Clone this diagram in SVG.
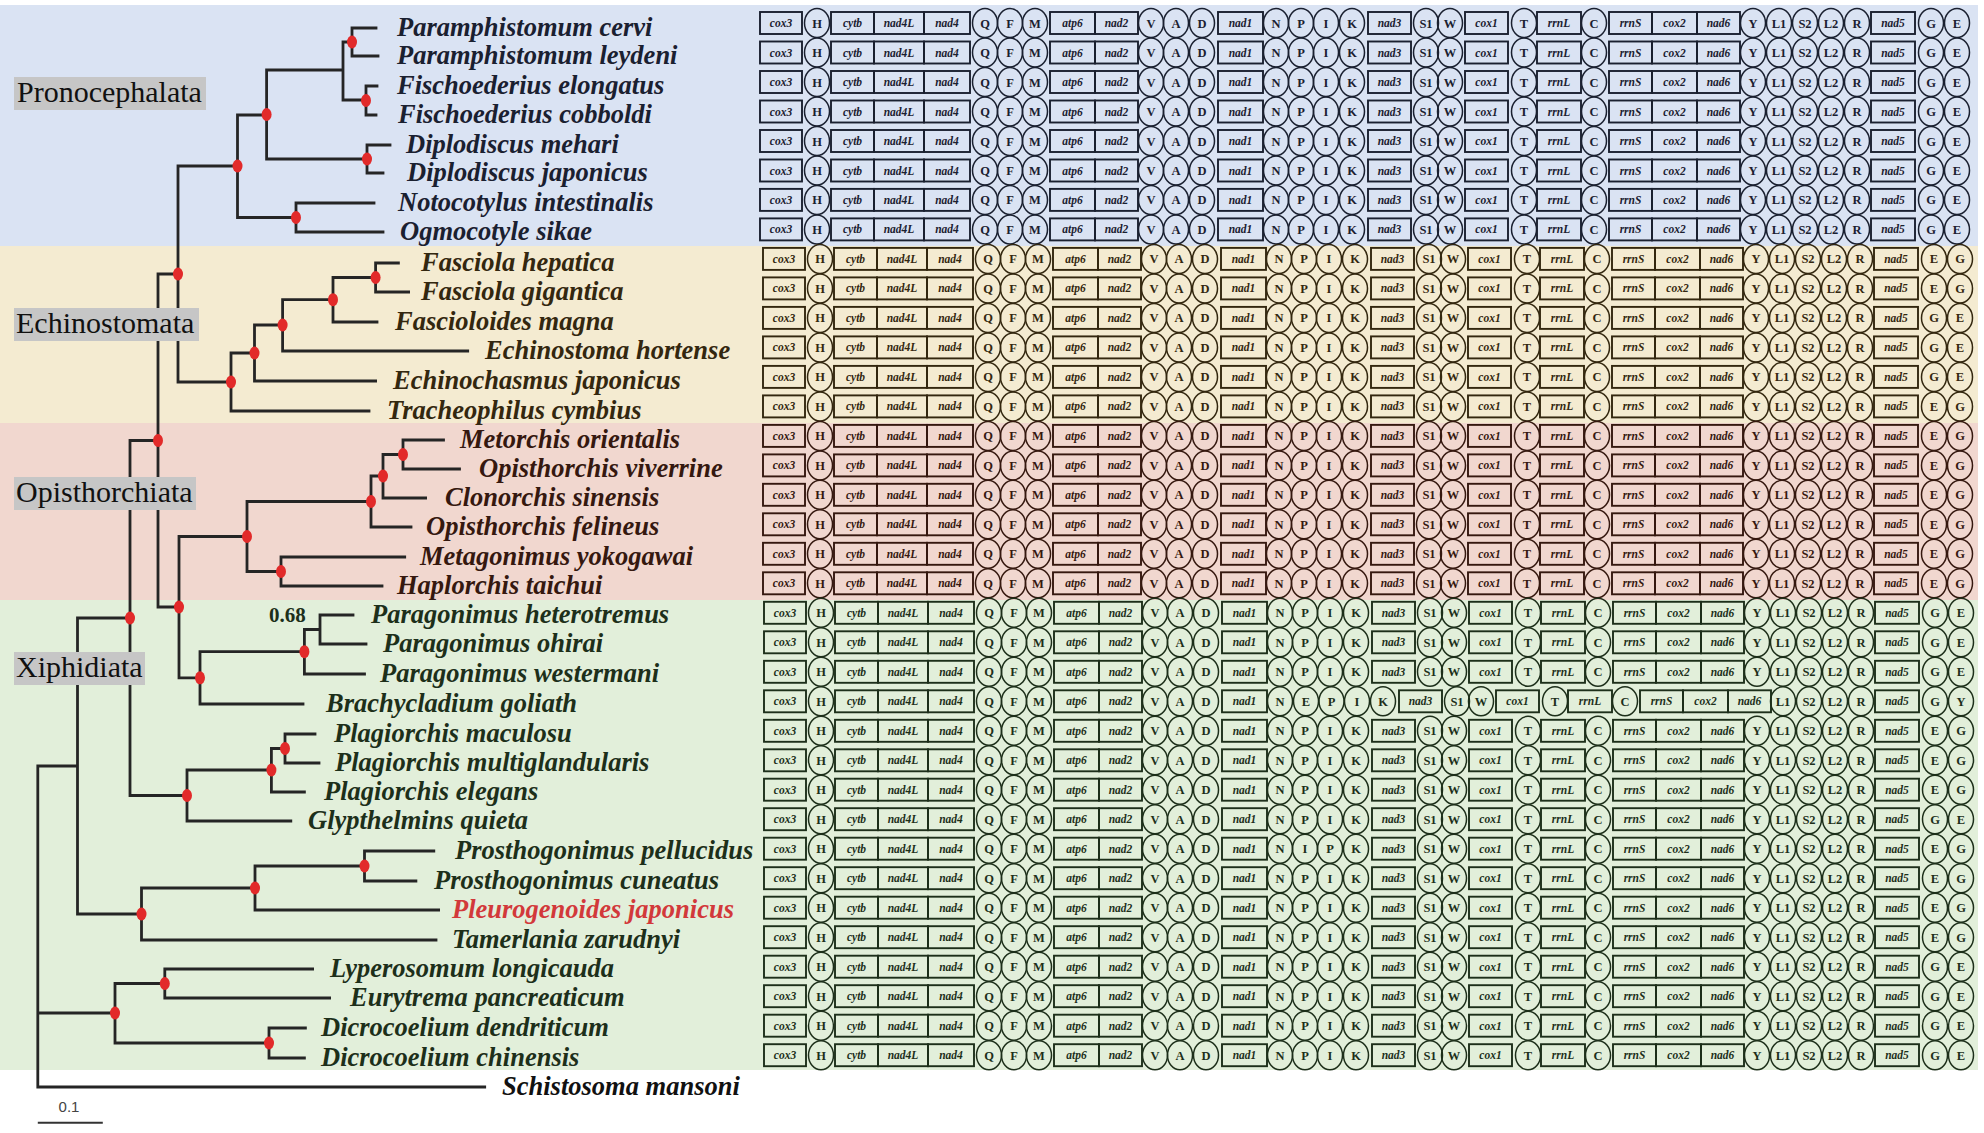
<svg xmlns="http://www.w3.org/2000/svg" xmlns:xlink="http://www.w3.org/1999/xlink" width="1984" height="1133" viewBox="0 0 1984 1133">
<style>
.bx{fill:none;stroke:currentColor;stroke-width:1.9}
.cc{fill:none;stroke:currentColor;stroke-width:1.5}
.bt{font-family:"Liberation Serif",serif;font-style:italic;font-weight:bold;font-size:11.5px;fill:currentColor;text-anchor:middle}
.ct{font-family:"Liberation Serif",serif;font-weight:bold;font-size:12.5px;fill:currentColor;text-anchor:middle}
.lab{font-family:"Liberation Serif",serif;font-style:italic;font-weight:bold;font-size:26.5px;fill:currentColor}
.B{color:#1a2030}.Y{color:#33270f}.P{color:#35180f}.G{color:#1d2f1a}.W{color:#111}
.tree{fill:none;stroke:#252525;stroke-width:2.8;stroke-linecap:square}
.mk{fill:#e22a2a}
.cl{fill:#c6c6c6}
.clt{font-family:"Liberation Serif",serif;font-size:30px;fill:#111}
</style>
<defs>
<g id="gl">
<rect class="bx" x="760" y="-11" width="42" height="22"/><text class="bt" x="781" y="4">cox3</text>
<ellipse class="cc" cx="817" rx="12.5" ry="14.5"/><text class="ct" x="817" y="4.5">H</text>
<rect class="bx" x="831" y="-11" width="43" height="22"/><text class="bt" x="852.5" y="4">cytb</text>
<rect class="bx" x="874" y="-11" width="50" height="22"/><text class="bt" x="899" y="4">nad4L</text>
<rect class="bx" x="924" y="-11" width="46" height="22"/><text class="bt" x="947" y="4">nad4</text>
<ellipse class="cc" cx="985" rx="12.5" ry="14.5"/><text class="ct" x="985" y="4.5">Q</text>
<ellipse class="cc" cx="1010" rx="12.5" ry="14.5"/><text class="ct" x="1010" y="4.5">F</text>
<ellipse class="cc" cx="1035" rx="12.5" ry="14.5"/><text class="ct" x="1035" y="4.5">M</text>
<rect class="bx" x="1050" y="-11" width="45" height="22"/><text class="bt" x="1072.5" y="4">atp6</text>
<rect class="bx" x="1095" y="-11" width="43" height="22"/><text class="bt" x="1116.5" y="4">nad2</text>
<ellipse class="cc" cx="1151" rx="12.5" ry="14.5"/><text class="ct" x="1151" y="4.5">V</text>
<ellipse class="cc" cx="1176" rx="12.5" ry="14.5"/><text class="ct" x="1176" y="4.5">A</text>
<ellipse class="cc" cx="1202" rx="12.5" ry="14.5"/><text class="ct" x="1202" y="4.5">D</text>
<rect class="bx" x="1218" y="-11" width="45" height="22"/><text class="bt" x="1240.5" y="4">nad1</text>
<ellipse class="cc" cx="1276" rx="12.5" ry="14.5"/><text class="ct" x="1276" y="4.5">N</text>
</g>
<g id="pik">
<ellipse class="cc" cx="1301" rx="12.5" ry="14.5"/><text class="ct" x="1301" y="4.5">P</text>
<ellipse class="cc" cx="1326" rx="12.5" ry="14.5"/><text class="ct" x="1326" y="4.5">I</text>
<ellipse class="cc" cx="1352" rx="12.5" ry="14.5"/><text class="ct" x="1352" y="4.5">K</text>
</g>
<g id="ipk">
<ellipse class="cc" cx="1301" rx="12.5" ry="14.5"/><text class="ct" x="1301" y="4.5">I</text>
<ellipse class="cc" cx="1326" rx="12.5" ry="14.5"/><text class="ct" x="1326" y="4.5">P</text>
<ellipse class="cc" cx="1352" rx="12.5" ry="14.5"/><text class="ct" x="1352" y="4.5">K</text>
</g>
<g id="gm">
<rect class="bx" x="1368" y="-11" width="43" height="22"/><text class="bt" x="1389.5" y="4">nad3</text>
<ellipse class="cc" cx="1426" rx="12.5" ry="14.5"/><text class="ct" x="1426" y="4.5">S1</text>
<ellipse class="cc" cx="1450" rx="12.5" ry="14.5"/><text class="ct" x="1450" y="4.5">W</text>
<rect class="bx" x="1465" y="-11" width="43" height="22"/><text class="bt" x="1486.5" y="4">cox1</text>
<ellipse class="cc" cx="1524" rx="12.5" ry="14.5"/><text class="ct" x="1524" y="4.5">T</text>
<rect class="bx" x="1537" y="-11" width="44" height="22"/><text class="bt" x="1559" y="4">rrnL</text>
<ellipse class="cc" cx="1594" rx="12.5" ry="14.5"/><text class="ct" x="1594" y="4.5">C</text>
<rect class="bx" x="1609" y="-11" width="43" height="22"/><text class="bt" x="1630.5" y="4">rrnS</text>
<rect class="bx" x="1652" y="-11" width="45" height="22"/><text class="bt" x="1674.5" y="4">cox2</text>
<rect class="bx" x="1697" y="-11" width="43" height="22"/><text class="bt" x="1718.5" y="4">nad6</text>
</g>
<g id="gy"><ellipse class="cc" cx="1753" rx="12.5" ry="14.5"/><text class="ct" x="1753" y="4.5">Y</text></g>
<g id="gt">
<ellipse class="cc" cx="1779" rx="12.5" ry="14.5"/><text class="ct" x="1779" y="4.5">L1</text>
<ellipse class="cc" cx="1805" rx="12.5" ry="14.5"/><text class="ct" x="1805" y="4.5">S2</text>
<ellipse class="cc" cx="1831" rx="12.5" ry="14.5"/><text class="ct" x="1831" y="4.5">L2</text>
<ellipse class="cc" cx="1857" rx="12.5" ry="14.5"/><text class="ct" x="1857" y="4.5">R</text>
<rect class="bx" x="1871" y="-11" width="44" height="22"/><text class="bt" x="1893" y="4">nad5</text>
</g>
<g id="ge">
<ellipse class="cc" cx="1931" rx="12.5" ry="14.5"/><text class="ct" x="1931" y="4.5">G</text>
<ellipse class="cc" cx="1957" rx="12.5" ry="14.5"/><text class="ct" x="1957" y="4.5">E</text>
</g>
<g id="eg">
<ellipse class="cc" cx="1931" rx="12.5" ry="14.5"/><text class="ct" x="1931" y="4.5">E</text>
<ellipse class="cc" cx="1957" rx="12.5" ry="14.5"/><text class="ct" x="1957" y="4.5">G</text>
</g>
<g id="core"><use href="#gl"/><use href="#gm"/><use href="#gy"/><use href="#gt"/></g>
</defs>

<g id="bands">
<rect x="0" y="5" width="1978" height="241" fill="#dae3f3"/>
<rect x="0" y="246" width="1978" height="177" fill="#f4ebd1"/>
<rect x="0" y="423" width="1978" height="177" fill="#f1d7cf"/>
<rect x="0" y="600" width="1978" height="470" fill="#e2efda"/>
</g>

<g id="taxa">
<g id="taxon-paramphistomum-cervi" class="B"><text class="lab" x="397" y="36">Paramphistomum cervi</text><g transform="translate(0,23)"><use href="#core"/><use href="#pik"/><use href="#ge"/></g></g>
<g id="taxon-paramphistomum-leydeni" class="B"><text class="lab" x="397" y="64">Paramphistomum leydeni</text><g transform="translate(0,52.5)"><use href="#core"/><use href="#pik"/><use href="#ge"/></g></g>
<g id="taxon-fischoederius-elongatus" class="B"><text class="lab" x="397" y="94">Fischoederius elongatus</text><g transform="translate(0,82)"><use href="#core"/><use href="#pik"/><use href="#ge"/></g></g>
<g id="taxon-fischoederius-cobboldi" class="B"><text class="lab" x="398" y="123">Fischoederius cobboldi</text><g transform="translate(0,111.5)"><use href="#core"/><use href="#pik"/><use href="#ge"/></g></g>
<g id="taxon-diplodiscus-mehari" class="B"><text class="lab" x="406" y="153">Diplodiscus mehari</text><g transform="translate(0,141)"><use href="#core"/><use href="#pik"/><use href="#ge"/></g></g>
<g id="taxon-diplodiscus-japonicus" class="B"><text class="lab" x="407" y="181">Diplodiscus japonicus</text><g transform="translate(0,170.5)"><use href="#core"/><use href="#pik"/><use href="#ge"/></g></g>
<g id="taxon-notocotylus-intestinalis" class="B"><text class="lab" x="398" y="211">Notocotylus intestinalis</text><g transform="translate(0,199.9)"><use href="#core"/><use href="#pik"/><use href="#ge"/></g></g>
<g id="taxon-ogmocotyle-sikae" class="B"><text class="lab" x="400" y="240">Ogmocotyle sikae</text><g transform="translate(0,229.4)"><use href="#core"/><use href="#pik"/><use href="#ge"/></g></g>

<g id="taxon-fasciola-hepatica" class="Y"><text class="lab" x="421" y="271">Fasciola hepatica</text><g transform="translate(3,258.9)"><use href="#core"/><use href="#pik"/><use href="#eg"/></g></g>
<g id="taxon-fasciola-gigantica" class="Y"><text class="lab" x="421" y="300">Fasciola gigantica</text><g transform="translate(3,288.4)"><use href="#core"/><use href="#pik"/><use href="#eg"/></g></g>
<g id="taxon-fascioloides-magna" class="Y"><text class="lab" x="395" y="330">Fascioloides magna</text><g transform="translate(3,317.9)"><use href="#core"/><use href="#pik"/><use href="#ge"/></g></g>
<g id="taxon-echinostoma-hortense" class="Y"><text class="lab" x="485" y="359">Echinostoma hortense</text><g transform="translate(3,347.4)"><use href="#core"/><use href="#pik"/><use href="#ge"/></g></g>
<g id="taxon-echinochasmus-japonicus" class="Y"><text class="lab" x="393" y="389">Echinochasmus japonicus</text><g transform="translate(3,376.9)"><use href="#core"/><use href="#pik"/><use href="#ge"/></g></g>
<g id="taxon-tracheophilus-cymbius" class="Y"><text class="lab" x="387" y="419">Tracheophilus cymbius</text><g transform="translate(3,406.4)"><use href="#core"/><use href="#pik"/><use href="#eg"/></g></g>

<g id="taxon-metorchis-orientalis" class="P"><text class="lab" x="460" y="448">Metorchis orientalis</text><g transform="translate(3,435.9)"><use href="#core"/><use href="#pik"/><use href="#eg"/></g></g>
<g id="taxon-opisthorchis-viverrine" class="P"><text class="lab" x="479" y="477">Opisthorchis viverrine</text><g transform="translate(3,465.4)"><use href="#core"/><use href="#pik"/><use href="#eg"/></g></g>
<g id="taxon-clonorchis-sinensis" class="P"><text class="lab" x="445" y="506">Clonorchis sinensis</text><g transform="translate(3,494.8)"><use href="#core"/><use href="#pik"/><use href="#eg"/></g></g>
<g id="taxon-opisthorchis-felineus" class="P"><text class="lab" x="426" y="535">Opisthorchis felineus</text><g transform="translate(3,524.3)"><use href="#core"/><use href="#pik"/><use href="#eg"/></g></g>
<g id="taxon-metagonimus-yokogawai" class="P"><text class="lab" x="420" y="565">Metagonimus yokogawai</text><g transform="translate(3,553.8)"><use href="#core"/><use href="#pik"/><use href="#eg"/></g></g>
<g id="taxon-haplorchis-taichui" class="P"><text class="lab" x="397" y="594">Haplorchis taichui</text><g transform="translate(3,583.3)"><use href="#core"/><use href="#pik"/><use href="#eg"/></g></g>

<g id="taxon-paragonimus-heterotremus" class="G"><text class="lab" x="371" y="623">Paragonimus heterotremus</text><g transform="translate(4,612.8)"><use href="#core"/><use href="#pik"/><use href="#ge"/></g></g>
<g id="taxon-paragonimus-ohirai" class="G"><text class="lab" x="383" y="652">Paragonimus ohirai</text><g transform="translate(4,642.3)"><use href="#core"/><use href="#pik"/><use href="#ge"/></g></g>
<g id="taxon-paragonimus-westermani" class="G"><text class="lab" x="380" y="682">Paragonimus westermani</text><g transform="translate(4,671.8)"><use href="#core"/><use href="#pik"/><use href="#ge"/></g></g>
<g id="taxon-brachycladium-goliath" class="G"><text class="lab" x="326" y="712">Brachycladium goliath</text><g transform="translate(4,701.3)"><use href="#gl"/>
<ellipse class="cc" cx="1302" rx="12.5" ry="14.5"/><text class="ct" x="1302" y="4.5">E</text>
<ellipse class="cc" cx="1327.5" rx="12.5" ry="14.5"/><text class="ct" x="1327.5" y="4.5">P</text>
<ellipse class="cc" cx="1353" rx="12.5" ry="14.5"/><text class="ct" x="1353" y="4.5">I</text>
<ellipse class="cc" cx="1379" rx="12.5" ry="14.5"/><text class="ct" x="1379" y="4.5">K</text>
<use href="#gm" x="27"/><use href="#gt"/>
<ellipse class="cc" cx="1931" rx="12.5" ry="14.5"/><text class="ct" x="1931" y="4.5">G</text>
<ellipse class="cc" cx="1957" rx="12.5" ry="14.5"/><text class="ct" x="1957" y="4.5">Y</text></g></g>
<g id="taxon-plagiorchis-maculosu" class="G"><text class="lab" x="334" y="742">Plagiorchis maculosu</text><g transform="translate(4,730.8)"><use href="#core"/><use href="#pik"/><use href="#eg"/></g></g>
<g id="taxon-plagiorchis-multiglandularis" class="G"><text class="lab" x="335" y="771">Plagiorchis multiglandularis</text><g transform="translate(4,760.3)"><use href="#core"/><use href="#pik"/><use href="#eg"/></g></g>
<g id="taxon-plagiorchis-elegans" class="G"><text class="lab" x="324" y="800">Plagiorchis elegans</text><g transform="translate(4,789.7)"><use href="#core"/><use href="#pik"/><use href="#eg"/></g></g>
<g id="taxon-glypthelmins-quieta" class="G"><text class="lab" x="308" y="829">Glypthelmins quieta</text><g transform="translate(4,819.2)"><use href="#core"/><use href="#pik"/><use href="#ge"/></g></g>
<g id="taxon-prosthogonimus-pellucidus" class="G"><text class="lab" x="455" y="859">Prosthogonimus pellucidus</text><g transform="translate(4,848.7)"><use href="#core"/><use href="#ipk"/><use href="#eg"/></g></g>
<g id="taxon-prosthogonimus-cuneatus" class="G"><text class="lab" x="434" y="889">Prosthogonimus cuneatus</text><g transform="translate(4,878.2)"><use href="#core"/><use href="#pik"/><use href="#eg"/></g></g>
<g id="taxon-pleurogenoides-japonicus" class="G"><text class="lab" x="452" y="918" style="fill:#d2393a">Pleurogenoides japonicus</text><g transform="translate(4,907.7)"><use href="#core"/><use href="#pik"/><use href="#eg"/></g></g>
<g id="taxon-tamerlania-zarudnyi" class="G"><text class="lab" x="452" y="948">Tamerlania zarudnyi</text><g transform="translate(4,937.2)"><use href="#core"/><use href="#pik"/><use href="#eg"/></g></g>
<g id="taxon-lyperosomum-longicauda" class="G"><text class="lab" x="330" y="977">Lyperosomum longicauda</text><g transform="translate(4,966.7)"><use href="#core"/><use href="#pik"/><use href="#ge"/></g></g>
<g id="taxon-eurytrema-pancreaticum" class="G"><text class="lab" x="350" y="1006">Eurytrema pancreaticum</text><g transform="translate(4,996.2)"><use href="#core"/><use href="#pik"/><use href="#ge"/></g></g>
<g id="taxon-dicrocoelium-dendriticum" class="G"><text class="lab" x="321" y="1036">Dicrocoelium dendriticum</text><g transform="translate(4,1025.7)"><use href="#core"/><use href="#pik"/><use href="#ge"/></g></g>
<g id="taxon-dicrocoelium-chinensis" class="G"><text class="lab" x="321" y="1066">Dicrocoelium chinensis</text><g transform="translate(4,1055.2)"><use href="#core"/><use href="#pik"/><use href="#ge"/></g></g>
<g id="taxon-schistosoma-mansoni" class="W"><text class="lab" x="502" y="1095">Schistosoma mansoni</text></g>
</g>

<g id="connectors">
<path class="tree" d="M352,28V56M352,28H376M352,56H378 M366,86V115M366,86H377M366,115H376 M343,42V100M343,42H352M343,100H366 M367,145V173M367,145H390M367,173H383 M266.6,70V159M266.6,70H343M266.6,159H367 M296,203V232M296,203H374M296,232H383 M237.5,115V217.5M237.5,115H266.6M237.5,217.5H296 M178,166V382M178,166H237.5M178,382H231
M375.6,263V292M375.6,263H398.4M375.6,292H408.6 M333,277.5V322M333,277.5H375.6M333,322H377 M282.6,299.7V351M282.6,299.7H333M282.6,351H467.7 M254.5,325V381M254.5,325H282.6M254.5,381H375.6 M231,353V411M231,353H254.5M231,411H369
M403,440V469M403,440H443.5M403,469H459.5 M383,454.5V498M383,454.5H403M383,498H425.6 M371,476V527M371,476H383M371,527H411 M281,557V586M281,557H404.7M281,586H382 M247,501.5V571.5M247,501.5H371M247,571.5H281
M320,615V644M320,615H353M320,644H366 M304.4,629.5V674M304.4,629.5H320M304.4,674H364.5 M200,651.7V704M200,651.7H304.4M200,704H303 M179,536.5V677.8M179,536.5H247M179,677.8H200 M158,274V607M158,274H178M158,607H179
M285,734V763M285,734H315M285,763H319 M271.4,748.5V792M271.4,748.5H285M271.4,792H304.4 M187,770V821M187,770H271.4M187,821H290.8 M130,440.5V795.5M130,440.5H158M130,795.5H187
M364.5,851V881M364.5,851H433.8M364.5,881H415.9 M255,866V910M255,866H364.5M255,910H438.6 M141.5,888V940M141.5,888H255M141.5,940H436 M77.5,618V914M77.5,618H130M77.5,914H141.5
M164.8,969V998M164.8,969H312.6M164.8,998H329.6 M269,1028V1058M269,1028H305.4M269,1058H304.4 M115,983.5V1043M115,983.5H164.8M115,1043H269
M37.8,766V1087M37.8,766H77.5M37.8,1013H115M37.8,1087H484.7"/>
<g class="mk">
<ellipse cx="352" cy="42" rx="5" ry="6.5"/><ellipse cx="366" cy="100.5" rx="5" ry="6.5"/><ellipse cx="367" cy="159" rx="5" ry="6.5"/><ellipse cx="266.6" cy="114.5" rx="5" ry="6.5"/><ellipse cx="296" cy="217.5" rx="5" ry="6.5"/><ellipse cx="237.5" cy="166" rx="5" ry="6.5"/><ellipse cx="178" cy="274" rx="5" ry="6.5"/>
<ellipse cx="375.6" cy="277.5" rx="5" ry="6.5"/><ellipse cx="333" cy="299.7" rx="5" ry="6.5"/><ellipse cx="282.6" cy="325" rx="5" ry="6.5"/><ellipse cx="254.5" cy="353" rx="5" ry="6.5"/><ellipse cx="231" cy="382" rx="5" ry="6.5"/>
<ellipse cx="403" cy="454.5" rx="5" ry="6.5"/><ellipse cx="383" cy="476" rx="5" ry="6.5"/><ellipse cx="371" cy="501.5" rx="5" ry="6.5"/><ellipse cx="281" cy="571.5" rx="5" ry="6.5"/><ellipse cx="247" cy="536.5" rx="5" ry="6.5"/>
<ellipse cx="304.4" cy="651.7" rx="5" ry="6.5"/><ellipse cx="200" cy="677.8" rx="5" ry="6.5"/><ellipse cx="179" cy="607" rx="5" ry="6.5"/><ellipse cx="158" cy="440.5" rx="5" ry="6.5"/>
<ellipse cx="285" cy="748.5" rx="5" ry="6.5"/><ellipse cx="271.4" cy="770" rx="5" ry="6.5"/><ellipse cx="187" cy="795.5" rx="5" ry="6.5"/><ellipse cx="130" cy="618" rx="5" ry="6.5"/>
<ellipse cx="364.5" cy="866" rx="5" ry="6.5"/><ellipse cx="255" cy="888" rx="5" ry="6.5"/><ellipse cx="141.5" cy="914" rx="5" ry="6.5"/>
<ellipse cx="164.8" cy="983.5" rx="5" ry="6.5"/><ellipse cx="269" cy="1043" rx="5" ry="6.5"/><ellipse cx="115" cy="1013" rx="5" ry="6.5"/>
</g>
<text x="269" y="622" font-family="Liberation Serif, serif" font-weight="bold" font-size="21" fill="#1d2f1a">0.68</text>
</g>

<g id="clade-pronocephalata"><rect class="cl" x="14" y="77" width="192" height="33"/><text class="clt" x="17" y="102">Pronocephalata</text></g>
<g id="clade-echinostomata"><rect class="cl" x="14" y="308" width="185" height="33"/><text class="clt" x="16" y="333">Echinostomata</text></g>
<g id="clade-opisthorchiata"><rect class="cl" x="14" y="477" width="182" height="33"/><text class="clt" x="16" y="502">Opisthorchiata</text></g>
<g id="clade-xiphidiata"><rect class="cl" x="14" y="652" width="131" height="33"/><text class="clt" x="16" y="677">Xiphidiata</text></g>

<g id="scale-bar">
<line x1="37.8" y1="1122.7" x2="102.8" y2="1122.7" stroke="#333" stroke-width="2"/>
<text x="69" y="1112" font-family="Liberation Sans, sans-serif" font-size="15" fill="#444" text-anchor="middle">0.1</text>
</g>
</svg>
